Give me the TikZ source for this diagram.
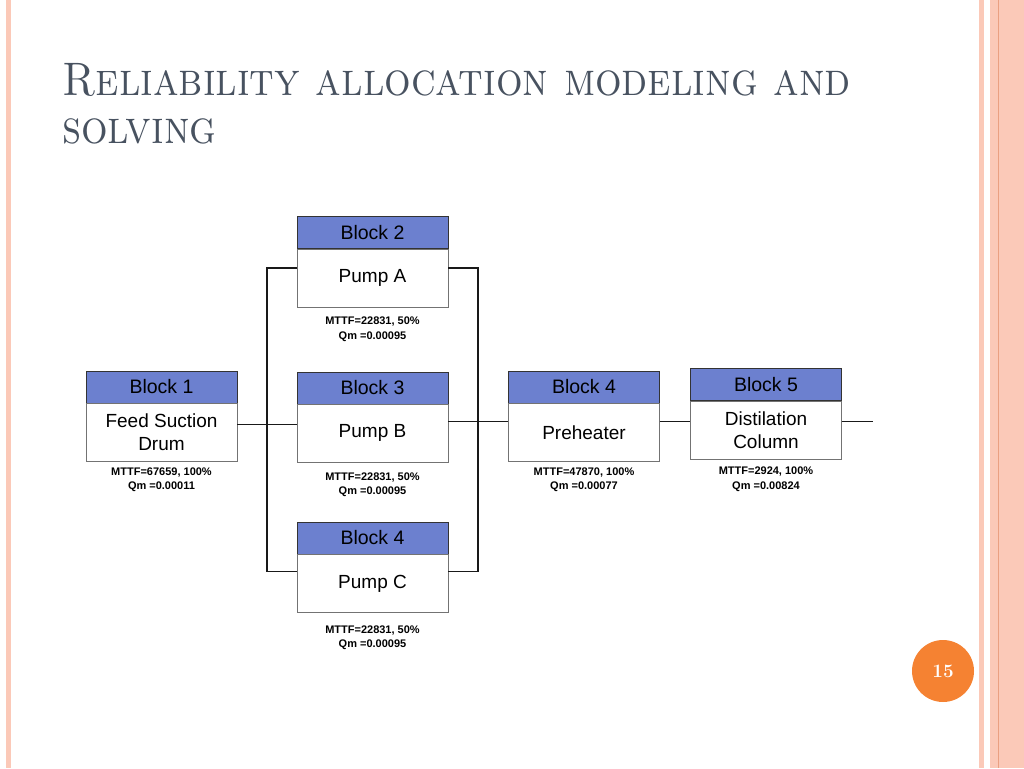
\documentclass[tikz,border=0pt]{standalone}
\usepackage{fontspec}
\usepackage{graphicx}
\newfontfamily\diagfont{Liberation Sans}
\usetikzlibrary{positioning,calc}
\definecolor{headblue}{RGB}{108,128,207}
\definecolor{titlegray}{RGB}{72,82,96}
\definecolor{pageorange}{RGB}{245,130,50}
\definecolor{pinkband}{RGB}{251,201,184}
\definecolor{pinkline}{RGB}{234,160,130}

\begin{document}
\begin{tikzpicture}[x=1pt,y=-1pt,
    blockhead/.style={draw=black!80, fill=headblue, minimum width=151pt, minimum height=32pt, inner sep=0pt, font=\diagfont\fontsize{19.5}{20}\selectfont},
    blockbody/.style={draw=black!55, fill=white, minimum width=151pt, minimum height=58pt, inner sep=0pt, align=center, font=\diagfont\fontsize{19}{23}\selectfont},
    mttf/.style={align=center, inner sep=0pt, font=\diagfont\bfseries\fontsize{11}{14.5}\selectfont},
    wire/.style={draw=black!90, line width=1.7pt}]
    \useasboundingbox (0,0) rectangle (1024,768);
    % slide borders
    \fill[pinkband] (6,0) rectangle (11,768);
    \fill[pinkband] (979,0) rectangle (984,768);
    \fill[pinkband] (990,0) rectangle (1024,768);
    \fill[pinkline] (997.5,0) rectangle (999,768);
    % title
    \node[anchor=base west, align=left, inner sep=0pt, text=titlegray, font=\fontsize{47}{48}\selectfont] (title) at (62,143) {\scalebox{0.89}[1]{\textsc{Reliability allocation modeling and}}\\\scalebox{0.89}[1]{\textsc{solving}}};
    % blocks
    \node[blockhead] (b1h) at (161.5,387) {Block 1};
    \node[blockbody, below=0pt of b1h] (b1) {Feed Suction\\Drum};
    \node[blockhead] (pah) at (372.5,232.5) {Block 2};
    \node[blockbody, below=0pt of pah] (pa) {Pump A};
    \node[blockhead] (pbh) at (372.5,388) {Block 3};
    \node[blockbody, below=0pt of pbh] (pb) {Pump B};
    \node[blockhead] (pch) at (372.5,538) {Block 4};
    \node[blockbody, below=0pt of pch] (pc) {Pump C};
    \node[blockhead] (phh) at (584,387) {Block 4};
    \node[blockbody, below=0pt of phh] (ph) {Preheater};
    \node[blockhead] (b5h) at (766,384.5) {Block 5};
    \node[blockbody, below=0pt of b5h] (b5) {Distilation\\Column};
    % figures under each block
    \node[mttf, below=6pt of b1] (b1m) {MTTF=67659, 100\%\\Qm =0.00011};
    \node[mttf, below=10pt of pa] (pam) {MTTF=22831, 50\%\\Qm =0.00095};
    \node[mttf, below=10pt of pb] (pbm) {MTTF=22831, 50\%\\Qm =0.00095};
    \node[mttf, below=13pt of pc] (pcm) {MTTF=22831, 50\%\\Qm =0.00095};
    \node[mttf, below=6pt of ph] (phm) {MTTF=47870, 100\%\\Qm =0.00077};
    \node[mttf, below=8pt of b5] (b5m) {MTTF=2924, 100\%\\Qm =0.00824};
    % connectors
    \coordinate (outend) at (873,421.5);
    \draw[wire] ([yshift=8pt]b1.east) -- ([yshift=8pt]b1.east -| pb.west);
    \draw[wire] ([yshift=10pt]pa.west) -- ++(-30,0) |- ([yshift=12pt]pc.west);
    \draw[wire] ([yshift=10pt]pa.east) -- ++(30,0) |- ([yshift=12pt]pc.east);
    \draw[wire] ([yshift=12pt]pb.east) -- ([yshift=12pt]pb.east -| ph.west);
    \draw[wire] ([yshift=11pt]ph.east) -- ([yshift=11pt]ph.east -| b5.west);
    \draw[wire] (b5.east |- outend) -- (outend);
    % page number
    \node[circle, fill=pageorange, minimum size=62pt, inner sep=0pt, text=white, font=\bfseries\fontsize{19}{19}\selectfont] (pnum) at (943,671) {15};
\end{tikzpicture}
\end{document}
